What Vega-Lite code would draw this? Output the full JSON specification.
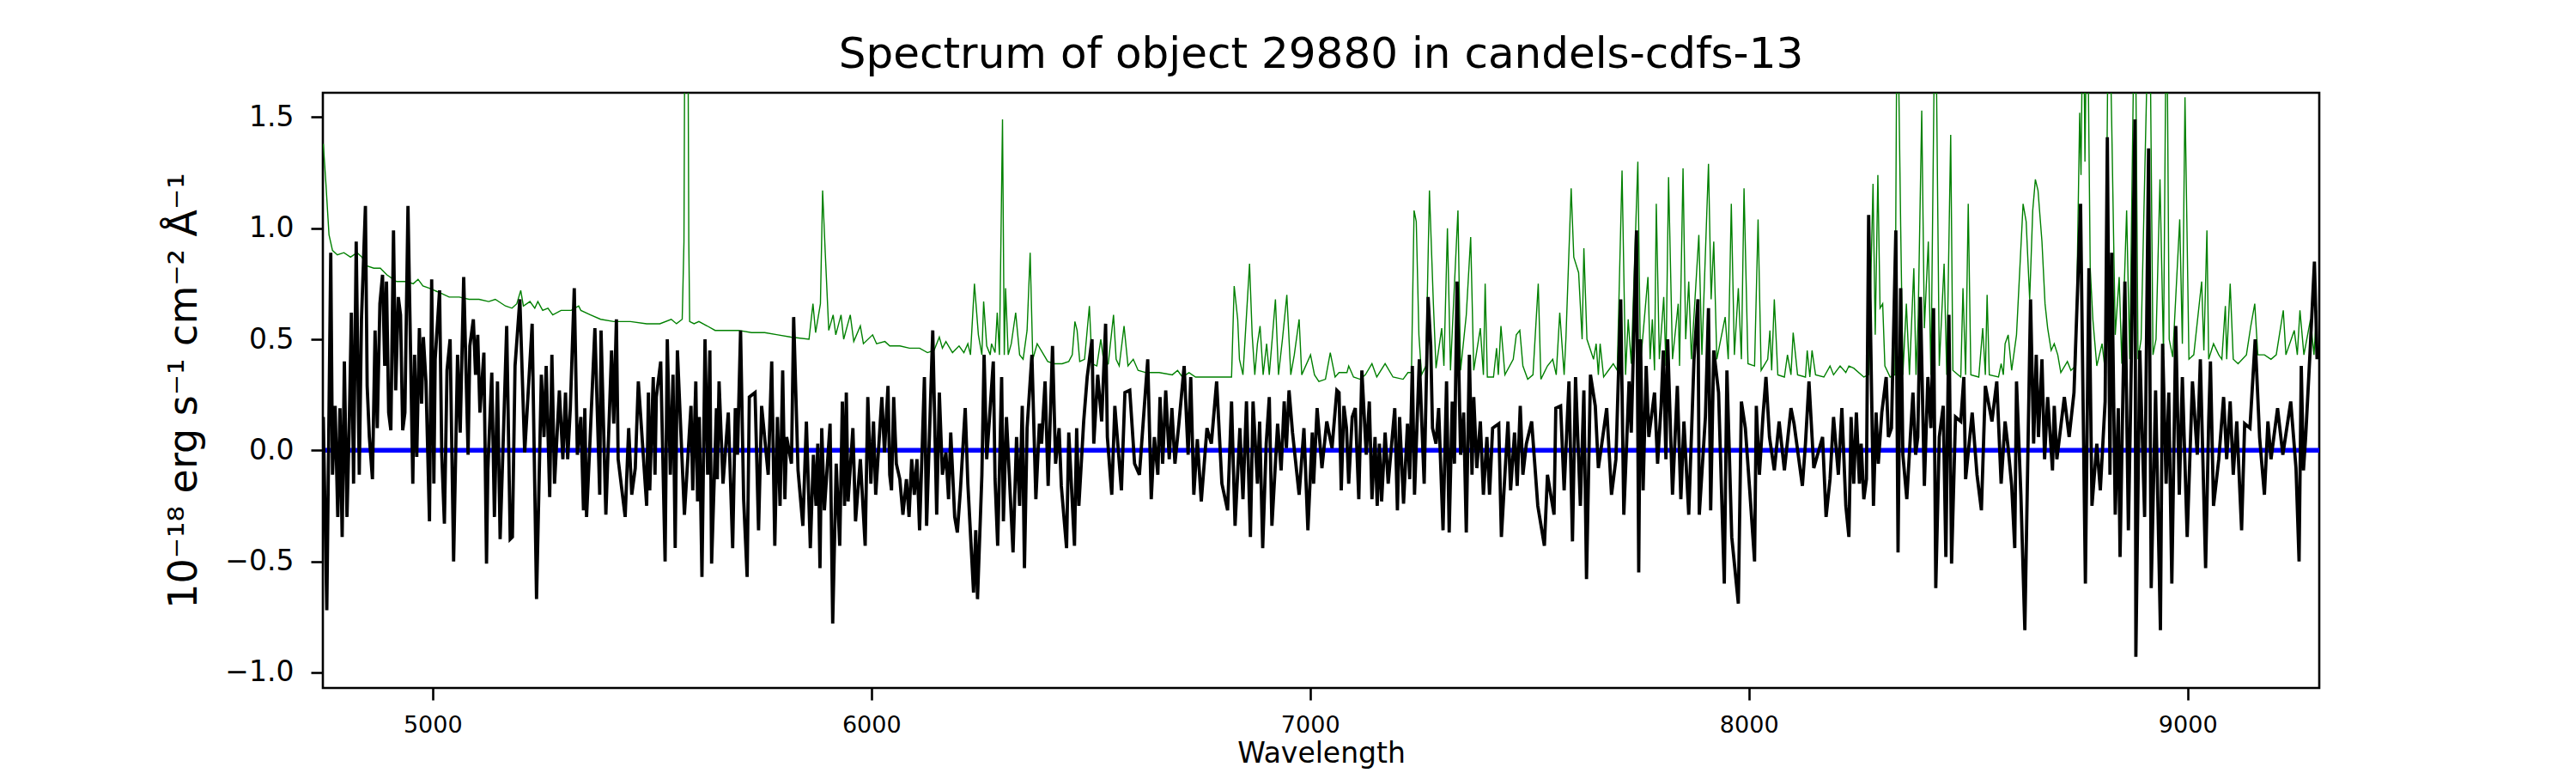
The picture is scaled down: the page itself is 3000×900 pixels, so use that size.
{
  "$schema": "https://vega.github.io/schema/vega-lite/v6.json",
  "description": "Spectrum of object 29880 in candels-cdfs-13",
  "width": 2325,
  "height": 693,
  "autosize": {"type": "none"},
  "padding": {"left": 376, "top": 108, "right": 299, "bottom": 99},
  "background": "white",
  "config": {
    "font": "DejaVu Sans",
    "view": {"stroke": "black", "strokeWidth": 2.6},
    "axis": {"grid": false, "domain": false, "tickColor": "black", "tickWidth": 2.6, "tickSize": 14, "labelColor": "black", "titleColor": "black", "titleFontWeight": "normal", "labelFont": "DejaVu Sans", "titleFont": "DejaVu Sans"}
  },
  "title": {
    "text": "Spectrum of object 29880 in candels-cdfs-13",
    "font": "DejaVu Sans",
    "fontSize": 50,
    "fontWeight": "normal",
    "color": "black",
    "anchor": "middle",
    "frame": "group",
    "baseline": "alphabetic",
    "offset": -21
  },
  "datasets": {
    "model": [
      {"wave":4751,"flux":1.38},{"wave":4757,"flux":1.20},{"wave":4764,"flux":0.97},{"wave":4772,"flux":0.90},{"wave":4783,"flux":0.88},{"wave":4798,"flux":0.89},{"wave":4813,"flux":0.87},{"wave":4828,"flux":0.89},{"wave":4839,"flux":0.87},{"wave":4851,"flux":0.83},{"wave":4866,"flux":0.82},{"wave":4881,"flux":0.82},{"wave":4896,"flux":0.79},{"wave":4918,"flux":0.76},{"wave":4941,"flux":0.76},{"wave":4956,"flux":0.75},{"wave":4967,"flux":0.77},{"wave":4978,"flux":0.74},{"wave":4993,"flux":0.73},{"wave":5016,"flux":0.71},{"wave":5038,"flux":0.69},{"wave":5061,"flux":0.69},{"wave":5083,"flux":0.68},{"wave":5106,"flux":0.68},{"wave":5128,"flux":0.67},{"wave":5143,"flux":0.68},{"wave":5166,"flux":0.65},{"wave":5181,"flux":0.64},{"wave":5192,"flux":0.66},{"wave":5201,"flux":0.72},{"wave":5207,"flux":0.65},{"wave":5222,"flux":0.67},{"wave":5233,"flux":0.64},{"wave":5240,"flux":0.67},{"wave":5251,"flux":0.63},{"wave":5263,"flux":0.64},{"wave":5274,"flux":0.61},{"wave":5293,"flux":0.63},{"wave":5316,"flux":0.63},{"wave":5333,"flux":0.65},{"wave":5338,"flux":0.63},{"wave":5360,"flux":0.61},{"wave":5383,"flux":0.59},{"wave":5413,"flux":0.58},{"wave":5451,"flux":0.58},{"wave":5488,"flux":0.57},{"wave":5518,"flux":0.57},{"wave":5544,"flux":0.59},{"wave":5556,"flux":0.57},{"wave":5569,"flux":0.59},{"wave":5573,"flux":0.94},{"wave":5576,"flux":2.5},{"wave":5581,"flux":2.5},{"wave":5584,"flux":0.94},{"wave":5586,"flux":0.58},{"wave":5596,"flux":0.57},{"wave":5607,"flux":0.58},{"wave":5626,"flux":0.56},{"wave":5644,"flux":0.54},{"wave":5674,"flux":0.54},{"wave":5697,"flux":0.54},{"wave":5727,"flux":0.53},{"wave":5757,"flux":0.53},{"wave":5787,"flux":0.52},{"wave":5817,"flux":0.51},{"wave":5858,"flux":0.50},{"wave":5867,"flux":0.66},{"wave":5873,"flux":0.53},{"wave":5884,"flux":0.66},{"wave":5889,"flux":1.17},{"wave":5895,"flux":0.89},{"wave":5903,"flux":0.54},
      {"wave":5913,"flux":0.61},{"wave":5919,"flux":0.52},{"wave":5931,"flux":0.61},{"wave":5937,"flux":0.50},{"wave":5952,"flux":0.61},{"wave":5960,"flux":0.49},{"wave":5975,"flux":0.56},{"wave":5982,"flux":0.48},{"wave":6003,"flux":0.52},{"wave":6012,"flux":0.48},{"wave":6031,"flux":0.49},{"wave":6042,"flux":0.47},{"wave":6065,"flux":0.47},{"wave":6087,"flux":0.46},{"wave":6110,"flux":0.46},{"wave":6128,"flux":0.44},{"wave":6143,"flux":0.45},{"wave":6155,"flux":0.51},{"wave":6162,"flux":0.46},{"wave":6170,"flux":0.49},{"wave":6185,"flux":0.44},{"wave":6200,"flux":0.47},{"wave":6211,"flux":0.44},{"wave":6220,"flux":0.48},{"wave":6226,"flux":0.43},{"wave":6235,"flux":0.75},{"wave":6244,"flux":0.52},{"wave":6252,"flux":0.43},{"wave":6256,"flux":0.67},{"wave":6263,"flux":0.47},{"wave":6271,"flux":0.43},{"wave":6274,"flux":0.48},{"wave":6282,"flux":0.44},{"wave":6287,"flux":0.62},{"wave":6292,"flux":0.43},{"wave":6299,"flux":1.49},{"wave":6303,"flux":0.43},{"wave":6306,"flux":0.73},{"wave":6312,"flux":0.43},{"wave":6319,"flux":0.48},{"wave":6329,"flux":0.62},{"wave":6338,"flux":0.43},{"wave":6346,"flux":0.41},{"wave":6355,"flux":0.54},{"wave":6362,"flux":0.89},{"wave":6368,"flux":0.41},{"wave":6378,"flux":0.48},{"wave":6387,"flux":0.45},{"wave":6402,"flux":0.40},{"wave":6417,"flux":0.39},{"wave":6435,"flux":0.39},{"wave":6450,"flux":0.40},{"wave":6458,"flux":0.43},{"wave":6464,"flux":0.58},{"wave":6469,"flux":0.54},{"wave":6475,"flux":0.40},{"wave":6486,"flux":0.41},{"wave":6497,"flux":0.65},{"wave":6503,"flux":0.39},{"wave":6514,"flux":0.38},{"wave":6523,"flux":0.50},{"wave":6531,"flux":0.38},{"wave":6540,"flux":0.39},{"wave":6552,"flux":0.61},{"wave":6558,"flux":0.41},{"wave":6565,"flux":0.38},{"wave":6576,"flux":0.56},{"wave":6585,"flux":0.38},{"wave":6597,"flux":0.41},{"wave":6608,"flux":0.36},{"wave":6626,"flux":0.35},{"wave":6656,"flux":0.35},{"wave":6686,"flux":0.34},{"wave":6698,"flux":0.36},{"wave":6709,"flux":0.33},{"wave":6724,"flux":0.35},{"wave":6739,"flux":0.33},{"wave":6754,"flux":0.33},{"wave":6784,"flux":0.33},{"wave":6821,"flux":0.33},{"wave":6827,"flux":0.74},{"wave":6835,"flux":0.59},{"wave":6839,"flux":0.41},{"wave":6847,"flux":0.34},{"wave":6862,"flux":0.84},{"wave":6868,"flux":0.52},{"wave":6874,"flux":0.34},{"wave":6880,"flux":0.48},{"wave":6886,"flux":0.56},{"wave":6893,"flux":0.34},{"wave":6901,"flux":0.48},{"wave":6907,"flux":0.34},{"wave":6921,"flux":0.68},{"wave":6928,"flux":0.34},{"wave":6937,"flux":0.50},{"wave":6947,"flux":0.70},{"wave":6956,"flux":0.34},{"wave":6964,"flux":0.43},{"wave":6975,"flux":0.59},{"wave":6981,"flux":0.34},{"wave":7001,"flux":0.43},{"wave":7010,"flux":0.34},{"wave":7020,"flux":0.31},{"wave":7035,"flux":0.32},{"wave":7046,"flux":0.44},{"wave":7057,"flux":0.33},
      {"wave":7066,"flux":0.35},{"wave":7084,"flux":0.35},{"wave":7088,"flux":0.38},{"wave":7099,"flux":0.33},{"wave":7114,"flux":0.32},{"wave":7126,"flux":0.34},{"wave":7141,"flux":0.39},{"wave":7152,"flux":0.33},{"wave":7171,"flux":0.39},{"wave":7189,"flux":0.33},{"wave":7212,"flux":0.32},{"wave":7223,"flux":0.35},{"wave":7231,"flux":0.35},{"wave":7237,"flux":1.08},{"wave":7242,"flux":1.03},{"wave":7248,"flux":0.52},{"wave":7254,"flux":0.34},{"wave":7264,"flux":0.38},{"wave":7272,"flux":1.17},{"wave":7281,"flux":0.66},{"wave":7287,"flux":0.37},{"wave":7300,"flux":0.55},{"wave":7305,"flux":0.38},{"wave":7313,"flux":1.00},{"wave":7320,"flux":0.36},{"wave":7326,"flux":0.62},{"wave":7337,"flux":1.08},{"wave":7343,"flux":0.36},{"wave":7356,"flux":0.61},{"wave":7366,"flux":0.96},{"wave":7373,"flux":0.36},{"wave":7388,"flux":0.55},{"wave":7395,"flux":0.34},{"wave":7399,"flux":0.75},{"wave":7404,"flux":0.33},{"wave":7418,"flux":0.33},{"wave":7425,"flux":0.46},{"wave":7429,"flux":0.34},{"wave":7435,"flux":0.56},{"wave":7444,"flux":0.34},{"wave":7463,"flux":0.41},{"wave":7470,"flux":0.52},{"wave":7478,"flux":0.54},{"wave":7485,"flux":0.38},{"wave":7496,"flux":0.32},{"wave":7508,"flux":0.34},{"wave":7520,"flux":0.75},{"wave":7526,"flux":0.32},{"wave":7541,"flux":0.38},{"wave":7553,"flux":0.41},{"wave":7561,"flux":0.34},{"wave":7569,"flux":0.62},{"wave":7579,"flux":0.34},{"wave":7583,"flux":0.50},{"wave":7595,"flux":1.18},{"wave":7601,"flux":0.87},{"wave":7612,"flux":0.80},{"wave":7620,"flux":0.50},{"wave":7624,"flux":0.91},{"wave":7631,"flux":0.50},{"wave":7646,"flux":0.41},{"wave":7652,"flux":0.48},{"wave":7657,"flux":0.34},{"wave":7661,"flux":0.48},{"wave":7669,"flux":0.33},{"wave":7680,"flux":0.36},{"wave":7691,"flux":0.39},{"wave":7700,"flux":0.36},{"wave":7711,"flux":1.26},{"wave":7719,"flux":0.34},{"wave":7725,"flux":0.59},{"wave":7732,"flux":0.39},{"wave":7747,"flux":1.30},{"wave":7753,"flux":0.39},{"wave":7770,"flux":0.78},{"wave":7775,"flux":0.41},{"wave":7780,"flux":0.59},{"wave":7785,"flux":0.36},{"wave":7789,"flux":1.11},{"wave":7796,"flux":0.41},{"wave":7806,"flux":0.69},{"wave":7811,"flux":0.38},{"wave":7817,"flux":1.23},{"wave":7826,"flux":0.41},{"wave":7839,"flux":0.66},{"wave":7842,"flux":0.38},{"wave":7850,"flux":1.27},{"wave":7856,"flux":0.50},{"wave":7863,"flux":0.76},{"wave":7869,"flux":0.41},{"wave":7886,"flux":0.97},{"wave":7893,"flux":0.43},{"wave":7908,"flux":1.29},{"wave":7914,"flux":0.68},{"wave":7920,"flux":0.94},{"wave":7927,"flux":0.41},{"wave":7946,"flux":0.60},{"wave":7953,"flux":0.41},{"wave":7960,"flux":1.11},{"wave":7967,"flux":0.43},{"wave":7976,"flux":0.73},{"wave":7983,"flux":0.41},{"wave":7989,"flux":1.18},{"wave":7998,"flux":0.39},{"wave":8013,"flux":0.38},{"wave":8021,"flux":1.04},{"wave":8028,"flux":0.36},{"wave":8043,"flux":0.41},{"wave":8048,"flux":0.54},{"wave":8052,"flux":0.36},{"wave":8058,"flux":0.68},{"wave":8066,"flux":0.34},{"wave":8081,"flux":0.33},{"wave":8088,"flux":0.43},{"wave":8096,"flux":0.34},{"wave":8101,"flux":0.53},{"wave":8111,"flux":0.34},{"wave":8129,"flux":0.33},{"wave":8133,"flux":0.45},{"wave":8139,"flux":0.33},{"wave":8144,"flux":0.45},{"wave":8152,"flux":0.34},{"wave":8171,"flux":0.33},{"wave":8185,"flux":0.38},{"wave":8193,"flux":0.34},{"wave":8208,"flux":0.38},{"wave":8221,"flux":0.35},
      {"wave":8228,"flux":0.38},{"wave":8239,"flux":0.37},{"wave":8262,"flux":0.33},{"wave":8273,"flux":0.34},{"wave":8283,"flux":1.20},{"wave":8288,"flux":0.52},{"wave":8294,"flux":1.24},{"wave":8299,"flux":0.64},{"wave":8305,"flux":0.66},{"wave":8310,"flux":0.38},{"wave":8322,"flux":0.33},{"wave":8333,"flux":0.34},{"wave":8338,"flux":2.2},{"wave":8346,"flux":1.01},{"wave":8351,"flux":0.34},{"wave":8359,"flux":0.66},{"wave":8366,"flux":0.34},{"wave":8376,"flux":0.82},{"wave":8381,"flux":0.34},{"wave":8386,"flux":0.61},{"wave":8394,"flux":1.53},{"wave":8400,"flux":0.55},{"wave":8409,"flux":0.94},{"wave":8415,"flux":0.34},{"wave":8425,"flux":2.2},{"wave":8434,"flux":0.38},{"wave":8445,"flux":0.84},{"wave":8451,"flux":0.34},{"wave":8460,"flux":1.42},{"wave":8465,"flux":0.36},{"wave":8483,"flux":0.33},{"wave":8488,"flux":0.73},{"wave":8494,"flux":0.34},{"wave":8500,"flux":1.11},{"wave":8506,"flux":0.34},{"wave":8524,"flux":0.33},{"wave":8533,"flux":0.55},{"wave":8539,"flux":0.34},{"wave":8543,"flux":0.70},{"wave":8548,"flux":0.34},{"wave":8569,"flux":0.33},{"wave":8575,"flux":0.39},{"wave":8580,"flux":0.34},{"wave":8584,"flux":0.48},{"wave":8591,"flux":0.52},{"wave":8599,"flux":0.36},{"wave":8610,"flux":0.52},{"wave":8625,"flux":1.11},{"wave":8632,"flux":1.03},{"wave":8640,"flux":0.68},{"wave":8647,"flux":1.08},{"wave":8653,"flux":1.22},{"wave":8659,"flux":1.17},{"wave":8668,"flux":0.94},{"wave":8675,"flux":0.66},{"wave":8681,"flux":0.55},{"wave":8689,"flux":0.45},{"wave":8696,"flux":0.48},{"wave":8704,"flux":0.43},{"wave":8711,"flux":0.35},{"wave":8726,"flux":0.40},{"wave":8734,"flux":0.36},{"wave":8745,"flux":0.38},{"wave":8754,"flux":1.52},{"wave":8757,"flux":1.24},{"wave":8762,"flux":2.2},{"wave":8766,"flux":1.3},{"wave":8771,"flux":2.2},{"wave":8778,"flux":0.82},{"wave":8784,"flux":0.59},{"wave":8793,"flux":0.38},{"wave":8805,"flux":0.48},{"wave":8812,"flux":0.36},{"wave":8820,"flux":2.2},{"wave":8827,"flux":1.47},{"wave":8835,"flux":0.52},{"wave":8844,"flux":0.78},{"wave":8850,"flux":0.39},{"wave":8861,"flux":1.08},{"wave":8868,"flux":0.41},{"wave":8880,"flux":2.2},{"wave":8887,"flux":0.41},{"wave":8894,"flux":0.50},{"wave":8913,"flux":2.2},{"wave":8921,"flux":0.43},{"wave":8928,"flux":0.50},{"wave":8937,"flux":1.22},{"wave":8945,"flux":0.43},{"wave":8952,"flux":2.2},{"wave":8958,"flux":0.50},{"wave":8966,"flux":0.42},{"wave":8982,"flux":1.04},{"wave":8988,"flux":0.48},{"wave":8994,"flux":1.59},{"wave":9003,"flux":0.41},{"wave":9014,"flux":0.43},{"wave":9032,"flux":0.76},{"wave":9037,"flux":0.45},{"wave":9044,"flux":0.99},{"wave":9048,"flux":0.41},{"wave":9059,"flux":0.48},{"wave":9071,"flux":0.43},{"wave":9078,"flux":0.41},{"wave":9086,"flux":0.65},{"wave":9089,"flux":0.41},{"wave":9097,"flux":0.75},{"wave":9104,"flux":0.41},{"wave":9115,"flux":0.39},{"wave":9134,"flux":0.43},{"wave":9144,"flux":0.56},{"wave":9153,"flux":0.66},{"wave":9160,"flux":0.43},{"wave":9175,"flux":0.43},{"wave":9190,"flux":0.41},{"wave":9202,"flux":0.43},{"wave":9218,"flux":0.63},{"wave":9224,"flux":0.43},{"wave":9243,"flux":0.54},{"wave":9250,"flux":0.43},{"wave":9256,"flux":0.63},{"wave":9265,"flux":0.43},{"wave":9280,"flux":0.59},{"wave":9288,"flux":0.43},{"wave":9294,"flux":0.63}
    ],
    "zero": [
      {"wave":4750,"flux":0},{"wave":9300,"flux":0}
    ],
    "spectrum": [
      {"wave":4751,"flux":0.15},{"wave":4759,"flux":-0.72},{"wave":4768,"flux":0.89},{"wave":4772,"flux":-0.11},{"wave":4778,"flux":0.20},{"wave":4784,"flux":-0.30},{"wave":4789,"flux":0.19},{"wave":4794,"flux":-0.39},{"wave":4799,"flux":0.40},{"wave":4805,"flux":-0.30},{"wave":4810,"flux":0.10},{"wave":4815,"flux":0.62},{"wave":4820,"flux":-0.15},{"wave":4826,"flux":0.94},{"wave":4833,"flux":-0.11},{"wave":4838,"flux":0.59},{"wave":4847,"flux":1.10},{"wave":4851,"flux":0.29},{"wave":4856,"flux":0.06},{"wave":4863,"flux":-0.13},{"wave":4869,"flux":0.54},{"wave":4874,"flux":0.10},{"wave":4880,"flux":0.66},{"wave":4886,"flux":0.79},{"wave":4891,"flux":0.38},{"wave":4895,"flux":0.76},{"wave":4900,"flux":0.17},{"wave":4905,"flux":0.09},{"wave":4911,"flux":0.99},{"wave":4916,"flux":0.27},{"wave":4922,"flux":0.69},{"wave":4927,"flux":0.61},{"wave":4932,"flux":0.09},{"wave":4937,"flux":0.17},{"wave":4944,"flux":1.10},{"wave":4950,"flux":0.43},{"wave":4955,"flux":-0.15},{"wave":4959,"flux":0.43},{"wave":4964,"flux":-0.03},{"wave":4970,"flux":0.55},{"wave":4975,"flux":0.21},{"wave":4979,"flux":0.51},{"wave":4985,"flux":0.31},{"wave":4993,"flux":-0.32},{"wave":4998,"flux":0.77},{"wave":5003,"flux":-0.15},{"wave":5006,"flux":0.41},{"wave":5016,"flux":0.72},{"wave":5021,"flux":-0.02},{"wave":5027,"flux":-0.33},{"wave":5033,"flux":0.36},{"wave":5040,"flux":0.50},{"wave":5048,"flux":-0.50},{"wave":5057,"flux":0.43},{"wave":5063,"flux":0.08},{"wave":5071,"flux":0.78},{"wave":5081,"flux":-0.02},{"wave":5085,"flux":0.47},{"wave":5093,"flux":0.59},{"wave":5098,"flux":0.34},{"wave":5103,"flux":0.52},{"wave":5108,"flux":0.17},{"wave":5117,"flux":0.44},{"wave":5123,"flux":-0.51},{"wave":5126,"flux":-0.09},{"wave":5135,"flux":0.35},{"wave":5141,"flux":-0.30},{"wave":5148,"flux":0.31},{"wave":5154,"flux":-0.40},{"wave":5162,"flux":0.10},{"wave":5169,"flux":0.56},{"wave":5177,"flux":-0.40},{"wave":5182,"flux":-0.39},{"wave":5188,"flux":0.38},{"wave":5199,"flux":0.68},{"wave":5210,"flux":-0.01},{"wave":5220,"flux":0.33},{"wave":5227,"flux":0.57},{"wave":5237,"flux":-0.67},{"wave":5248,"flux":0.34},{"wave":5254,"flux":0.06},{"wave":5259,"flux":0.38},{"wave":5267,"flux":-0.21},{"wave":5272,"flux":0.43},{"wave":5278,"flux":-0.15},{"wave":5289,"flux":0.27},{"wave":5297,"flux":-0.04},{"wave":5303,"flux":0.26},{"wave":5308,"flux":-0.04},{"wave":5314,"flux":0.19},{"wave":5323,"flux":0.73},{"wave":5330,"flux":-0.02},{"wave":5338,"flux":0.15},{"wave":5344,"flux":-0.27},{"wave":5347,"flux":0.19},{"wave":5351,"flux":-0.30},{"wave":5359,"flux":0.05},{"wave":5370,"flux":0.55},{"wave":5381,"flux":-0.20},{"wave":5384,"flux":0.54},{"wave":5395,"flux":-0.29},{"wave":5408,"flux":0.45},{"wave":5413,"flux":0.12},{"wave":5419,"flux":0.59},{"wave":5423,"flux":-0.04},{"wave":5439,"flux":-0.30},{"wave":5447,"flux":0.10},{"wave":5454,"flux":-0.20},{"wave":5462,"flux":-0.08},{"wave":5469,"flux":0.31},{"wave":5488,"flux":-0.25},{"wave":5492,"flux":0.26},{"wave":5495,"flux":-0.18},{"wave":5503,"flux":0.33},{"wave":5507,"flux":-0.11},{"wave":5510,"flux":0.24},{"wave":5520,"flux":0.40},{"wave":5530,"flux":-0.50},{"wave":5535,"flux":0.50},{"wave":5542,"flux":-0.11},{"wave":5548,"flux":0.34},{"wave":5553,"flux":-0.44},{"wave":5558,"flux":0.45},{"wave":5574,"flux":-0.29},{"wave":5589,"flux":0.20},{"wave":5593,"flux":-0.18},{"wave":5600,"flux":0.31},{"wave":5604,"flux":-0.23},{"wave":5608,"flux":0.15},{"wave":5614,"flux":-0.57},{"wave":5621,"flux":0.50},{"wave":5627,"flux":-0.11},{"wave":5632,"flux":0.45},{"wave":5636,"flux":-0.51},{"wave":5647,"flux":0.19},{"wave":5649,"flux":-0.13},{"wave":5653,"flux":0.31},{"wave":5662,"flux":-0.15},{"wave":5674,"flux":0.17},{"wave":5684,"flux":-0.44},{"wave":5690,"flux":0.19},{"wave":5695,"flux":-0.02},{"wave":5702,"flux":0.54},{"wave":5709,"flux":-0.22},{"wave":5717,"flux":-0.57},{"wave":5722,"flux":0.24},{"wave":5735,"flux":0.26},{"wave":5743,"flux":-0.36},{"wave":5750,"flux":0.20},{"wave":5765,"flux":-0.11},{"wave":5773,"flux":0.40},{"wave":5780,"flux":-0.43},{"wave":5786,"flux":0.15},{"wave":5792,"flux":-0.25},{"wave":5798,"flux":0.36},{"wave":5803,"flux":-0.22},{"wave":5807,"flux":0.06},{"wave":5818,"flux":-0.06},{"wave":5823,"flux":0.60},{"wave":5833,"flux":-0.09},{"wave":5844,"flux":-0.34},{"wave":5852,"flux":0.13},{"wave":5861,"flux":-0.44},{"wave":5868,"flux":-0.02},{"wave":5874,"flux":-0.25},{"wave":5878,"flux":0.03},{"wave":5883,"flux":-0.53},{"wave":5887,"flux":0.10},{"wave":5893,"flux":-0.27},{"wave":5906,"flux":0.12},{"wave":5912,"flux":-0.78},
      {"wave":5920,"flux":-0.06},{"wave":5928,"flux":-0.43},{"wave":5934,"flux":0.22},{"wave":5939,"flux":-0.25},{"wave":5943,"flux":0.26},{"wave":5947,"flux":-0.23},{"wave":5958,"flux":0.10},{"wave":5964,"flux":-0.32},{"wave":5975,"flux":-0.04},{"wave":5986,"flux":-0.43},{"wave":5992,"flux":0.24},{"wave":5999,"flux":-0.15},{"wave":6005,"flux":0.13},{"wave":6010,"flux":-0.20},{"wave":6016,"flux":-0.01},{"wave":6024,"flux":0.24},{"wave":6030,"flux":-0.01},{"wave":6038,"flux":0.29},{"wave":6042,"flux":-0.11},{"wave":6046,"flux":-0.18},{"wave":6051,"flux":0.24},{"wave":6057,"flux":-0.06},{"wave":6065,"flux":-0.13},{"wave":6072,"flux":-0.29},{"wave":6080,"flux":-0.13},{"wave":6086,"flux":-0.30},{"wave":6092,"flux":-0.04},{"wave":6098,"flux":-0.20},{"wave":6104,"flux":-0.04},{"wave":6110,"flux":-0.36},{"wave":6121,"flux":0.33},{"wave":6126,"flux":-0.34},{"wave":6140,"flux":0.54},{"wave":6149,"flux":-0.29},{"wave":6155,"flux":0.26},{"wave":6162,"flux":-0.11},{"wave":6170,"flux":-0.01},{"wave":6176,"flux":-0.22},{"wave":6181,"flux":0.08},{"wave":6190,"flux":-0.30},{"wave":6196,"flux":-0.37},{"wave":6203,"flux":-0.18},{"wave":6214,"flux":0.19},{"wave":6220,"flux":-0.15},{"wave":6233,"flux":-0.64},{"wave":6238,"flux":-0.36},{"wave":6242,"flux":-0.67},{"wave":6252,"flux":-0.11},{"wave":6257,"flux":0.43},{"wave":6263,"flux":-0.04},{"wave":6278,"flux":0.40},{"wave":6282,"flux":-0.13},{"wave":6288,"flux":-0.43},{"wave":6297,"flux":0.33},{"wave":6301,"flux":-0.32},{"wave":6308,"flux":0.15},{"wave":6323,"flux":-0.46},{"wave":6331,"flux":0.06},{"wave":6338,"flux":-0.25},{"wave":6344,"flux":0.20},{"wave":6349,"flux":-0.53},{"wave":6355,"flux":0.10},{"wave":6366,"flux":0.43},{"wave":6375,"flux":-0.22},{"wave":6383,"flux":0.12},{"wave":6388,"flux":0.03},{"wave":6396,"flux":0.31},{"wave":6403,"flux":-0.16},{"wave":6413,"flux":0.47},{"wave":6420,"flux":-0.06},{"wave":6428,"flux":0.10},{"wave":6433,"flux":-0.16},{"wave":6445,"flux":-0.44},{"wave":6450,"flux":0.08},{"wave":6463,"flux":-0.43},{"wave":6468,"flux":0.10},{"wave":6473,"flux":-0.25},{"wave":6484,"flux":0.13},{"wave":6492,"flux":0.33},{"wave":6503,"flux":0.50},{"wave":6507,"flux":0.03},{"wave":6516,"flux":0.34},{"wave":6525,"flux":0.13},{"wave":6534,"flux":0.57},{"wave":6538,"flux":0.06},{"wave":6548,"flux":-0.20},{"wave":6555,"flux":0.20},{"wave":6570,"flux":-0.18},{"wave":6578,"flux":0.26},{"wave":6589,"flux":0.27},{"wave":6600,"flux":-0.06},{"wave":6611,"flux":-0.11},{"wave":6630,"flux":0.41},{"wave":6638,"flux":-0.22},{"wave":6645,"flux":0.06},{"wave":6653,"flux":-0.11},{"wave":6658,"flux":0.24},{"wave":6664,"flux":-0.06},{"wave":6671,"flux":0.27},{"wave":6679,"flux":-0.04},{"wave":6685,"flux":0.19},{"wave":6692,"flux":-0.06},{"wave":6701,"flux":0.12},{"wave":6713,"flux":0.38},{"wave":6722,"flux":-0.02},{"wave":6728,"flux":0.33},{"wave":6735,"flux":-0.20},{"wave":6743,"flux":0.05},{"wave":6752,"flux":-0.23},{"wave":6765,"flux":0.10},{"wave":6775,"flux":0.03},{"wave":6787,"flux":0.31},{"wave":6799,"flux":-0.15},{"wave":6812,"flux":-0.27},{"wave":6821,"flux":0.22},{"wave":6829,"flux":-0.34},{"wave":6840,"flux":0.10},{"wave":6847,"flux":-0.22},{"wave":6855,"flux":0.22},{"wave":6864,"flux":-0.39},{"wave":6870,"flux":0.22},{"wave":6880,"flux":-0.15},{"wave":6885,"flux":0.13},{"wave":6892,"flux":-0.44},{"wave":6900,"flux":0.03},{"wave":6907,"flux":0.24},{"wave":6913,"flux":-0.34},{"wave":6926,"flux":0.12},{"wave":6934,"flux":-0.09},{"wave":6941,"flux":0.22},{"wave":6946,"flux":0.01},{"wave":6952,"flux":0.27},{"wave":6960,"flux":0.08},{"wave":6975,"flux":-0.20},{"wave":6986,"flux":0.10},{"wave":6995,"flux":-0.36},{"wave":7005,"flux":0.08},{"wave":7008,"flux":-0.15},{"wave":7016,"flux":0.19},{"wave":7027,"flux":-0.08},{"wave":7038,"flux":0.13},{"wave":7050,"flux":0.01},{"wave":7061,"flux":0.27},
      {"wave":7066,"flux":0.26},{"wave":7071,"flux":-0.18},{"wave":7077,"flux":0.20},{"wave":7083,"flux":0.10},{"wave":7088,"flux":-0.15},{"wave":7096,"flux":0.15},{"wave":7103,"flux":0.19},{"wave":7111,"flux":-0.22},{"wave":7118,"flux":0.36},{"wave":7128,"flux":-0.02},{"wave":7135,"flux":0.22},{"wave":7141,"flux":-0.22},{"wave":7148,"flux":0.06},{"wave":7153,"flux":-0.25},{"wave":7158,"flux":0.03},{"wave":7163,"flux":-0.23},{"wave":7171,"flux":0.08},{"wave":7178,"flux":-0.15},{"wave":7193,"flux":0.19},{"wave":7199,"flux":-0.27},{"wave":7204,"flux":0.15},{"wave":7213,"flux":-0.24},{"wave":7222,"flux":0.12},{"wave":7227,"flux":-0.13},{"wave":7233,"flux":0.38},{"wave":7238,"flux":-0.20},{"wave":7249,"flux":0.41},{"wave":7260,"flux":-0.15},{"wave":7269,"flux":0.69},{"wave":7275,"flux":0.47},{"wave":7279,"flux":0.10},{"wave":7287,"flux":0.03},{"wave":7293,"flux":0.19},{"wave":7303,"flux":-0.36},{"wave":7311,"flux":0.31},{"wave":7317,"flux":-0.37},{"wave":7324,"flux":0.22},{"wave":7329,"flux":-0.06},{"wave":7335,"flux":0.76},{"wave":7343,"flux":-0.02},{"wave":7350,"flux":0.17},{"wave":7356,"flux":-0.37},{"wave":7363,"flux":0.43},{"wave":7369,"flux":-0.11},{"wave":7373,"flux":0.24},{"wave":7380,"flux":-0.08},{"wave":7388,"flux":0.13},{"wave":7395,"flux":-0.20},{"wave":7403,"flux":0.06},{"wave":7409,"flux":-0.20},{"wave":7416,"flux":0.10},{"wave":7430,"flux":0.12},{"wave":7436,"flux":-0.39},{"wave":7444,"flux":-0.11},{"wave":7451,"flux":0.13},{"wave":7457,"flux":-0.18},{"wave":7466,"flux":0.08},{"wave":7472,"flux":-0.16},{"wave":7479,"flux":0.20},{"wave":7485,"flux":-0.11},{"wave":7493,"flux":0.03},{"wave":7505,"flux":0.13},{"wave":7519,"flux":-0.25},{"wave":7534,"flux":-0.43},{"wave":7541,"flux":-0.11},{"wave":7556,"flux":-0.29},{"wave":7560,"flux":0.19},{"wave":7571,"flux":0.20},{"wave":7579,"flux":-0.18},{"wave":7590,"flux":0.31},{"wave":7598,"flux":-0.41},{"wave":7605,"flux":0.33},{"wave":7616,"flux":-0.25},{"wave":7624,"flux":0.27},{"wave":7630,"flux":-0.58},{"wave":7639,"flux":0.34},{"wave":7650,"flux":0.20},{"wave":7657,"flux":-0.08},{"wave":7667,"flux":0.06},{"wave":7676,"flux":0.19},{"wave":7687,"flux":-0.20},{"wave":7697,"flux":-0.04},{"wave":7708,"flux":0.68},{"wave":7715,"flux":-0.29},{"wave":7727,"flux":0.31},{"wave":7732,"flux":0.08},{"wave":7744,"flux":0.99},{"wave":7749,"flux":-0.55},{"wave":7753,"flux":0.50},{"wave":7759,"flux":-0.18},{"wave":7766,"flux":0.38},{"wave":7772,"flux":0.06},{"wave":7785,"flux":0.26},{"wave":7792,"flux":-0.06},{"wave":7800,"flux":0.20},{"wave":7805,"flux":0.45},{"wave":7811,"flux":-0.04},{"wave":7815,"flux":0.50},{"wave":7826,"flux":-0.20},{"wave":7837,"flux":0.29},{"wave":7845,"flux":-0.22},{"wave":7852,"flux":0.13},{"wave":7863,"flux":-0.29},{"wave":7875,"flux":0.41},{"wave":7884,"flux":0.68},{"wave":7887,"flux":-0.29},{"wave":7901,"flux":0.15},{"wave":7908,"flux":0.64},{"wave":7913,"flux":-0.27},{"wave":7920,"flux":0.45},{"wave":7931,"flux":0.26},{"wave":7944,"flux":-0.60},{"wave":7950,"flux":0.36},{"wave":7961,"flux":-0.39},{"wave":7976,"flux":-0.69},{"wave":7983,"flux":0.22},{"wave":7992,"flux":0.10},{"wave":8002,"flux":-0.18},{"wave":8013,"flux":-0.50},{"wave":8017,"flux":0.20},{"wave":8024,"flux":-0.11},{"wave":8032,"flux":0.15},{"wave":8039,"flux":0.33},{"wave":8047,"flux":0.06},{"wave":8058,"flux":-0.09},{"wave":8069,"flux":0.13},{"wave":8081,"flux":-0.09},{"wave":8096,"flux":0.19},{"wave":8103,"flux":0.12},{"wave":8122,"flux":-0.16},{"wave":8129,"flux":0.03},{"wave":8137,"flux":0.31},{"wave":8148,"flux":-0.08},{"wave":8168,"flux":0.06},{"wave":8176,"flux":-0.30},{"wave":8185,"flux":-0.13},{"wave":8193,"flux":0.15},{"wave":8204,"flux":-0.11},{"wave":8212,"flux":0.19},{"wave":8221,"flux":-0.25},
      {"wave":8228,"flux":-0.39},{"wave":8233,"flux":0.15},{"wave":8239,"flux":-0.15},{"wave":8245,"flux":0.17},{"wave":8252,"flux":-0.15},{"wave":8256,"flux":0.03},{"wave":8262,"flux":-0.22},{"wave":8268,"flux":-0.13},{"wave":8273,"flux":1.06},{"wave":8284,"flux":-0.25},{"wave":8290,"flux":0.17},{"wave":8295,"flux":-0.06},{"wave":8303,"flux":0.17},{"wave":8313,"flux":0.33},{"wave":8318,"flux":0.06},{"wave":8325,"flux":0.10},{"wave":8335,"flux":0.99},{"wave":8340,"flux":-0.46},{"wave":8346,"flux":0.73},{"wave":8351,"flux":-0.02},{"wave":8360,"flux":-0.22},{"wave":8368,"flux":0.06},{"wave":8374,"flux":0.26},{"wave":8380,"flux":-0.02},{"wave":8385,"flux":0.06},{"wave":8391,"flux":0.69},{"wave":8400,"flux":-0.16},{"wave":8408,"flux":0.33},{"wave":8415,"flux":0.10},{"wave":8421,"flux":0.64},{"wave":8426,"flux":-0.62},{"wave":8434,"flux":0.06},{"wave":8443,"flux":0.20},{"wave":8449,"flux":-0.48},{"wave":8456,"flux":0.61},{"wave":8462,"flux":-0.51},{"wave":8471,"flux":0.15},{"wave":8483,"flux":0.13},{"wave":8490,"flux":0.33},{"wave":8494,"flux":-0.13},{"wave":8509,"flux":0.17},{"wave":8520,"flux":-0.11},{"wave":8530,"flux":-0.27},{"wave":8539,"flux":0.29},{"wave":8554,"flux":0.13},{"wave":8565,"flux":0.31},{"wave":8575,"flux":-0.15},{"wave":8584,"flux":0.13},{"wave":8591,"flux":0.01},{"wave":8599,"flux":-0.16},{"wave":8606,"flux":-0.44},{"wave":8610,"flux":0.31},{"wave":8620,"flux":-0.20},{"wave":8629,"flux":-0.81},{"wave":8642,"flux":0.68},{"wave":8649,"flux":0.03},{"wave":8655,"flux":0.43},{"wave":8660,"flux":0.06},{"wave":8668,"flux":0.41},{"wave":8674,"flux":-0.04},{"wave":8681,"flux":0.24},{"wave":8692,"flux":-0.09},{"wave":8696,"flux":0.20},{"wave":8702,"flux":-0.04},{"wave":8719,"flux":0.24},{"wave":8730,"flux":0.06},{"wave":8741,"flux":0.26},{"wave":8756,"flux":1.11},{"wave":8767,"flux":-0.60},{"wave":8775,"flux":0.82},{"wave":8782,"flux":-0.25},{"wave":8793,"flux":0.03},{"wave":8801,"flux":-0.18},{"wave":8812,"flux":0.22},{"wave":8817,"flux":1.41},{"wave":8823,"flux":-0.11},{"wave":8827,"flux":0.89},{"wave":8835,"flux":-0.29},{"wave":8842,"flux":0.19},{"wave":8846,"flux":-0.48},{"wave":8857,"flux":0.76},{"wave":8865,"flux":-0.36},{"wave":8870,"flux":0.19},{"wave":8880,"flux":1.49},{"wave":8882,"flux":-0.93},{"wave":8891,"flux":0.45},{"wave":8902,"flux":-0.30},{"wave":8911,"flux":1.36},{"wave":8917,"flux":-0.62},{"wave":8927,"flux":0.27},{"wave":8938,"flux":-0.81},{"wave":8943,"flux":0.48},{"wave":8951,"flux":-0.15},{"wave":8957,"flux":0.26},{"wave":8964,"flux":-0.60},{"wave":8973,"flux":0.56},{"wave":8981,"flux":-0.20},{"wave":8988,"flux":0.33},{"wave":8999,"flux":-0.39},{"wave":9011,"flux":0.31},{"wave":9022,"flux":-0.02},{"wave":9029,"flux":0.41},{"wave":9041,"flux":-0.53},{"wave":9048,"flux":0.13},{"wave":9052,"flux":0.40},{"wave":9059,"flux":-0.25},{"wave":9071,"flux":-0.04},{"wave":9082,"flux":0.24},{"wave":9089,"flux":-0.04},{"wave":9097,"flux":0.22},{"wave":9104,"flux":-0.11},{"wave":9112,"flux":0.13},{"wave":9123,"flux":-0.36},{"wave":9130,"flux":0.12},{"wave":9142,"flux":0.10},{"wave":9154,"flux":0.50},{"wave":9164,"flux":0.06},{"wave":9175,"flux":-0.20},{"wave":9183,"flux":0.13},{"wave":9190,"flux":-0.04},{"wave":9205,"flux":0.19},{"wave":9217,"flux":-0.02},{"wave":9235,"flux":0.22},{"wave":9247,"flux":-0.08},{"wave":9254,"flux":-0.50},{"wave":9259,"flux":0.38},{"wave":9264,"flux":-0.09},{"wave":9269,"flux":0.06},{"wave":9280,"flux":0.48},{"wave":9289,"flux":0.85},{"wave":9295,"flux":0.41}
    ]
  },
  "encoding": {
    "x": {
      "field": "wave",
      "type": "quantitative",
      "scale": {"domain": [4750, 9300], "nice": false, "zero": false},
      "axis": {
        "values": [5000, 6000, 7000, 8000, 9000],
        "format": "d",
        "labelFontSize": 27,
        "labelPadding": 16,
        "title": "Wavelength",
        "titleFontSize": 33,
        "titleX": 1162.5,
        "titleY": 86,
        "titleAlign": "center",
        "titleBaseline": "alphabetic"
      }
    },
    "y": {
      "field": "flux",
      "type": "quantitative",
      "scale": {"domain": [-1.07, 1.61], "nice": false, "zero": false},
      "axis": {
        "values": [-1, -0.5, 0, 0.5, 1, 1.5],
        "format": ".1f",
        "labelFontSize": 33,
        "labelPadding": 20,
        "title": "10⁻¹⁸ erg s⁻¹ cm⁻² Å⁻¹",
        "titleFontSize": 46,
        "titleAngle": 270,
        "titleX": -148,
        "titleY": 346.5,
        "titleAlign": "center",
        "titleBaseline": "alphabetic"
      }
    }
  },
  "layer": [
    {
      "data": {"name": "model"},
      "mark": {"type": "line", "color": "#008000", "strokeWidth": 1.4, "clip": true}
    },
    {
      "data": {"name": "zero"},
      "mark": {"type": "line", "color": "#0000ff", "strokeWidth": 5.5, "clip": true}
    },
    {
      "data": {"name": "spectrum"},
      "mark": {"type": "line", "color": "black", "strokeWidth": 3.8, "clip": true}
    }
  ]
}
